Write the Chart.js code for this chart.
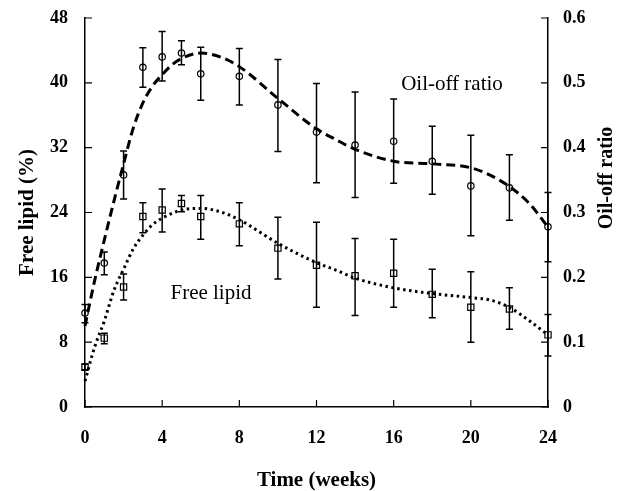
<!DOCTYPE html>
<html>
<head>
<meta charset="utf-8">
<script src="https://cdn.jsdelivr.net/npm/chart.js@4/dist/chart.umd.min.js"></script>
<style>
  html, body { margin: 0; padding: 0; background: #fff; }
  #wrap { width: 632px; height: 491px; }
</style>
</head>
<body>
<div id="wrap"><canvas id="c" width="632" height="491"></canvas></div>
<script>
// ---- data ----
const weeks = [0, 1, 2, 3, 4, 5, 6, 8, 10, 12, 14, 16, 18, 20, 22, 24];

const oilOff   = [0.145, 0.222, 0.358, 0.524, 0.540, 0.546, 0.514, 0.510, 0.466, 0.424, 0.404, 0.410, 0.379, 0.341, 0.338, 0.278];
const oilOffLo = [0.130, 0.204, 0.321, 0.493, 0.503, 0.528, 0.473, 0.466, 0.394, 0.346, 0.323, 0.345, 0.328, 0.264, 0.288, 0.224];
const oilOffHi = [0.158, 0.239, 0.395, 0.554, 0.579, 0.565, 0.555, 0.553, 0.536, 0.499, 0.486, 0.475, 0.433, 0.419, 0.389, 0.331];

const freeLipid   = [4.9, 8.5, 14.8, 23.5, 24.3, 25.1, 23.5, 22.6, 19.6, 17.5, 16.2, 16.5, 13.9, 12.3, 12.1, 8.9];
const freeLipidLo = [4.6, 7.8, 13.2, 21.5, 21.6, 24.1, 20.7, 19.9, 15.8, 12.3, 11.3, 12.3, 11.0, 8.0, 9.6, 6.3];
const freeLipidHi = [5.3, 9.1, 16.4, 25.2, 26.9, 26.1, 26.1, 25.2, 23.4, 22.8, 20.8, 20.7, 17.0, 16.7, 14.7, 11.4];

// fitted curves
const oilFitWeeks = [0, 0.5, 1, 1.5, 2, 2.5, 3, 3.5, 4, 4.5, 5, 6, 7, 8, 10, 12, 13, 14, 16, 18, 20, 21, 22, 23, 24];
const oilFit      = [0.125, 0.195, 0.2575, 0.3175, 0.375, 0.430, 0.469, 0.495, 0.5125, 0.5275, 0.5375, 0.546, 0.540, 0.525, 0.476, 0.429, 0.4125, 0.3975, 0.379, 0.375, 0.369, 0.3575, 0.340, 0.315, 0.2775];

const lipidFitWeeks = [0, 0.5, 1, 1.5, 2, 2.5, 3, 3.5, 4, 5, 6, 7, 8, 10, 12, 13, 14, 16, 18, 20, 21, 22, 23, 24];
const lipidFit      = [3.2, 7.4, 10.6, 14.4, 17.0, 19.5, 21.2, 22.5, 23.3, 24.3, 24.5, 24.1, 23.1, 20.2, 17.8, 16.9, 15.9, 14.7, 14.0, 13.5, 13.2, 12.3, 10.7, 8.9];

const xTicks = { min: 0, max: 24, step: 4 };
const leftTicks = { min: 0, max: 48, step: 8 };
const rightTicks = { min: 0, max: 0.6, step: 0.1 };

const xTitle = 'Time (weeks)';
const leftTitle = 'Free lipid (%)';
const rightTitle = 'Oil-off ratio';
const oilLabel = 'Oil-off ratio';
const lipidLabel = 'Free lipid';

// ---- chart ----
const SERIF = '"Liberation Serif", "Times New Roman", serif';
const pts = (xs, ys) => xs.map((x, i) => ({ x: x, y: ys[i] }));

const extras = {
  id: 'extras',
  afterDatasetsDraw(chart) {
    const ctx = chart.ctx;
    const xs = chart.scales.x;
    ctx.save();
    ctx.strokeStyle = '#000';
    ctx.lineWidth = 1.5;
    const bars = [
      { scale: chart.scales.yR, lo: oilOffLo, hi: oilOffHi },
      { scale: chart.scales.yL, lo: freeLipidLo, hi: freeLipidHi }
    ];
    bars.forEach(b => {
      weeks.forEach((w, i) => {
        const px = xs.getPixelForValue(w);
        const y1 = b.scale.getPixelForValue(b.lo[i]);
        const y2 = b.scale.getPixelForValue(b.hi[i]);
        ctx.beginPath();
        ctx.moveTo(px, y1); ctx.lineTo(px, y2);
        ctx.moveTo(px - 3.5, y1); ctx.lineTo(px + 3.5, y1);
        ctx.moveTo(px - 3.5, y2); ctx.lineTo(px + 3.5, y2);
        ctx.stroke();
      });
    });
    ctx.restore();
  },
  afterDraw(chart) {
    const ctx = chart.ctx;
    const ca = chart.chartArea;
    const { x, yL, yR } = chart.scales;
    ctx.save();
    ctx.strokeStyle = '#000';
    ctx.lineWidth = 1.2;
    const TL = 7;
    ctx.beginPath();
    x.ticks.forEach(t => {
      const px = x.getPixelForValue(t.value);
      ctx.moveTo(px, ca.bottom); ctx.lineTo(px, ca.bottom - TL);
    });
    yL.ticks.forEach(t => {
      const py = yL.getPixelForValue(t.value);
      ctx.moveTo(ca.left, py); ctx.lineTo(ca.left + TL, py);
    });
    yR.ticks.forEach(t => {
      const py = yR.getPixelForValue(t.value);
      ctx.moveTo(ca.right, py); ctx.lineTo(ca.right - TL, py);
    });
    ctx.stroke();

    // in-plot labels
    ctx.fillStyle = '#000';
    ctx.font = '21px ' + SERIF;
    ctx.textAlign = 'center';
    ctx.textBaseline = 'middle';
    ctx.fillText(oilLabel, 452, 84);
    ctx.fillText(lipidLabel, 211, 293);

    // right axis title (reads bottom to top)
    ctx.font = 'bold 20px ' + SERIF;
    ctx.translate(607, 178);
    ctx.rotate(-Math.PI / 2);
    ctx.fillText(rightTitle, 0, 0);
    ctx.restore();
  }
};

const tickFont = { family: SERIF, size: 18, weight: 'bold' };
const titleFont = { family: SERIF, size: 21, weight: 'bold', lineHeight: 1 };

new Chart(document.getElementById('c'), {
  type: 'scatter',
  data: {
    datasets: [
      {
        label: 'Oil-off ratio',
        data: pts(weeks, oilOff),
        yAxisID: 'yR',
        showLine: false,
        pointStyle: 'circle',
        pointRadius: 3.2,
        pointBorderWidth: 1.2,
        pointBorderColor: '#000',
        pointBackgroundColor: 'rgba(0,0,0,0)',
        clip: false
      },
      {
        label: 'Free lipid',
        data: pts(weeks, freeLipid),
        yAxisID: 'yL',
        showLine: false,
        pointStyle: 'rect',
        pointRadius: 4.4,
        pointBorderWidth: 1.2,
        pointBorderColor: '#000',
        pointBackgroundColor: 'rgba(0,0,0,0)',
        clip: false
      },
      {
        label: 'Oil-off fit',
        type: 'line',
        data: pts(oilFitWeeks, oilFit),
        yAxisID: 'yR',
        borderColor: '#000',
        borderWidth: 3,
        borderDash: [9, 5],
        pointRadius: 0,
        cubicInterpolationMode: 'monotone',
        fill: false,
        clip: false
      },
      {
        label: 'Free lipid fit',
        type: 'line',
        data: pts(lipidFitWeeks, lipidFit),
        yAxisID: 'yL',
        borderColor: '#000',
        borderWidth: 3,
        borderDash: [2.5, 3.5],
        pointRadius: 0,
        cubicInterpolationMode: 'monotone',
        fill: false,
        clip: false
      }
    ]
  },
  options: {
    responsive: false,
    animation: false,
    devicePixelRatio: 1,
    layout: { padding: { top: 18, left: 0, right: 0, bottom: 0 } },
    plugins: { legend: { display: false }, tooltip: { enabled: false } },
    scales: {
      x: {
        type: 'linear',
        position: 'bottom',
        min: xTicks.min, max: xTicks.max,
        ticks: { stepSize: xTicks.step, color: '#000', font: tickFont, padding: 21, maxRotation: 0 },
        grid: { display: true, drawOnChartArea: false, drawTicks: false },
        border: { display: true, color: '#000', width: 1.5 },
        title: { display: true, text: xTitle, color: '#000', font: titleFont, padding: { top: 0, bottom: 0 } },
        afterFit(s) { s.height = 84; s.paddingLeft = 0; s.paddingRight = 0; }
      },
      yL: {
        type: 'linear',
        position: 'left',
        min: leftTicks.min, max: leftTicks.max,
        ticks: { stepSize: leftTicks.step, color: '#000', font: tickFont, padding: 17 },
        grid: { display: true, drawOnChartArea: false, drawTicks: false },
        border: { display: true, color: '#000', width: 1.5 },
        title: { display: true, text: leftTitle, color: '#000', font: titleFont, padding: { top: 17, bottom: 0 } },
        afterFit(s) { s.width = 85; s.paddingTop = 10; s.paddingBottom = 10; }
      },
      yR: {
        type: 'linear',
        position: 'right',
        min: rightTicks.min, max: rightTicks.max,
        ticks: { stepSize: rightTicks.step, color: '#000', font: tickFont, padding: 15 },
        grid: { display: true, drawOnChartArea: false, drawTicks: false },
        border: { display: true, color: '#000', width: 1.5 },
        afterFit(s) { s.width = 84; s.paddingTop = 10; s.paddingBottom = 10; }
      }
    }
  },
  plugins: [extras]
});
</script>
</body>
</html>
